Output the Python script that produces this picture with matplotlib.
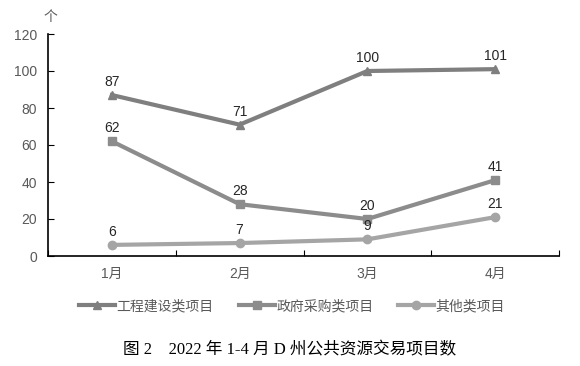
import matplotlib.pyplot as plt
import numpy as np

plt.rcParams['font.family'] = ['Liberation Sans', 'Noto Sans CJK SC', 'DejaVu Sans']

months = ['1月', '2月', '3月', '4月']
gongcheng = [87, 71, 100, 101]
zhengfu = [62, 28, 20, 41]
qita = [6, 7, 9, 21]
names = ['工程建设类项目', '政府采购类项目', '其他类项目']

fig = plt.figure(figsize=(5.8, 3.66), dpi=100)
ax = fig.add_axes([48/580, 1-256/366, (559-48)/580, (256-34)/366])

x = np.arange(len(months))
series = [(gongcheng, '^', '#7f7f7f'), (zhengfu, 's', '#8c8c8c'), (qita, 'o', '#a5a5a5')]
for (vals, mk, col), nm in zip(series, names):
    ax.plot(x, vals, color=col, lw=3, marker=mk, ms=6, label=nm)
    for xi, v in zip(x, vals):
        ax.annotate(str(v), (xi, v), xytext=(0, 6), textcoords='offset pixels',
                    ha='center', va='bottom', fontsize=10, color='#262626')

ax.set_xlim(-0.5, 3.5)
ax.set_ylim(0, 120)
ax.set_yticks(range(0, 121, 20))
ax.set_xticks(np.arange(-0.5, 3.6, 1))
ax.set_xticklabels([])
ax.set_xticks(x, minor=True)
ax.set_xticklabels(months, minor=True)
ax.tick_params(axis='x', which='minor', length=0, pad=8, labelsize=10, labelcolor='#595959')
ax.tick_params(axis='x', which='major', direction='in', length=4)
ax.tick_params(axis='y', direction='in', length=4, labelsize=10, labelcolor='#595959', pad=8)
for s in ['top', 'right']:
    ax.spines[s].set_visible(False)
for s in ['left', 'bottom']:
    ax.spines[s].set_linewidth(1.2)

fig.text(50/580, 1-17/366, '个', ha='center', va='center', fontsize=10, color='#595959')

fig.legend(loc='center', bbox_to_anchor=(292/580, 1-306/366), ncol=3, frameon=False,
           fontsize=10, handlelength=2.6, columnspacing=1.8, handletextpad=0.1,
           labelcolor='#595959')

fig.text(290/580, 1-350/366, '图 2　2022 年 1-4 月 D 州公共资源交易项目数', ha='center', va='center',
         fontsize=12, family=['Liberation Serif', 'Noto Sans CJK SC'], color='black')

fig.savefig('out.png', dpi=100)
